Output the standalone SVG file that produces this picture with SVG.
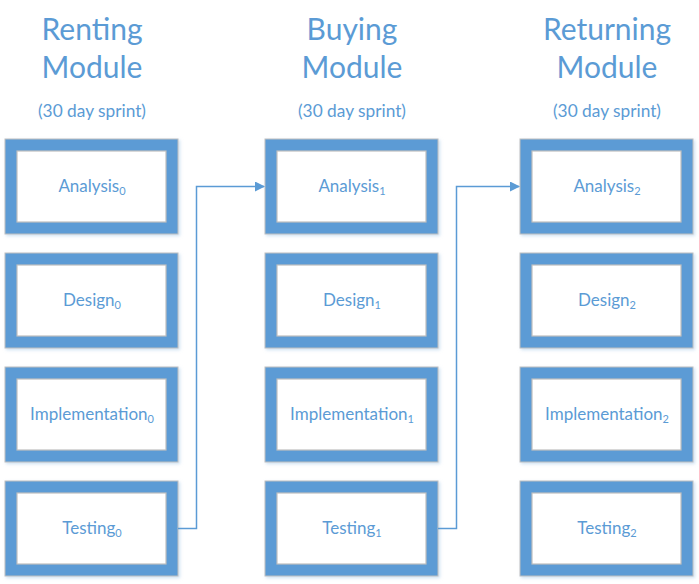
<svg xmlns="http://www.w3.org/2000/svg" width="699" height="584" viewBox="0 0 699 584">
<style>
text{font-family:Lato,"Open Sans","Liberation Sans",sans-serif;fill:#5B9BD5;text-anchor:middle}
.t{font-size:30px}
.s{font-size:17.3px}
.l{font-size:17px}
.sub{font-size:11px}
.o{fill:#5B9BD5;stroke:#BFBFBF;stroke-width:1}
.i{fill:#FFFFFF;stroke:#BFBFBF;stroke-width:1.2}
.c{fill:none;stroke:#5B9BD5;stroke-width:1.5}
</style>
<defs>
<marker id="ah" markerWidth="10" markerHeight="10" refX="9" refY="5" orient="auto" markerUnits="userSpaceOnUse">
<path d="M0,0 L10,5 L0,10 Z" fill="#5B9BD5"/>
</marker>
<filter id="sh" x="-5%" y="-5%" width="115%" height="115%">
<feDropShadow dx="1.5" dy="1.5" stdDeviation="1.5" flood-color="#9DC3E6" flood-opacity="0.5"/>
</filter>
<g id="box"><rect class="o" x="0" y="0" width="173" height="95" filter="url(#sh)"/><rect class="i" x="12" y="12" width="149" height="71"/></g>
</defs>
<g id="headers">
<text class="t" x="92" y="40">Renting</text><text class="t" x="92" y="78">Module</text><text class="s" x="92" y="116.5">(30 day sprint)</text>
<text class="t" x="352" y="40">Buying</text><text class="t" x="352" y="78">Module</text><text class="s" x="352" y="116.5">(30 day sprint)</text>
<text class="t" x="607" y="40">Returning</text><text class="t" x="607" y="78">Module</text><text class="s" x="607" y="116.5">(30 day sprint)</text>
</g>
<g id="col0">
<g id="analysis0"><use href="#box" x="5" y="139"/><text class="l" x="92" y="192">Analysis<tspan class="sub" dy="3">0</tspan></text></g>
<g id="design0"><use href="#box" x="5" y="253"/><text class="l" x="92" y="306">Design<tspan class="sub" dy="3">0</tspan></text></g>
<g id="implementation0"><use href="#box" x="5" y="367"/><text class="l" x="92" y="420">Implementation<tspan class="sub" dy="3">0</tspan></text></g>
<g id="testing0"><use href="#box" x="5" y="481"/><text class="l" x="92" y="534">Testing<tspan class="sub" dy="3">0</tspan></text></g>
</g>
<g id="col1">
<g id="analysis1"><use href="#box" x="265" y="139"/><text class="l" x="352" y="192">Analysis<tspan class="sub" dy="3">1</tspan></text></g>
<g id="design1"><use href="#box" x="265" y="253"/><text class="l" x="352" y="306">Design<tspan class="sub" dy="3">1</tspan></text></g>
<g id="implementation1"><use href="#box" x="265" y="367"/><text class="l" x="352" y="420">Implementation<tspan class="sub" dy="3">1</tspan></text></g>
<g id="testing1"><use href="#box" x="265" y="481"/><text class="l" x="352" y="534">Testing<tspan class="sub" dy="3">1</tspan></text></g>
</g>
<g id="col2">
<g id="analysis2"><use href="#box" x="520" y="139"/><text class="l" x="607" y="192">Analysis<tspan class="sub" dy="3">2</tspan></text></g>
<g id="design2"><use href="#box" x="520" y="253"/><text class="l" x="607" y="306">Design<tspan class="sub" dy="3">2</tspan></text></g>
<g id="implementation2"><use href="#box" x="520" y="367"/><text class="l" x="607" y="420">Implementation<tspan class="sub" dy="3">2</tspan></text></g>
<g id="testing2"><use href="#box" x="520" y="481"/><text class="l" x="607" y="534">Testing<tspan class="sub" dy="3">2</tspan></text></g>
</g>
<g id="connectors">
<path class="c" d="M178,528.5 H196.5 V186.5 H264" marker-end="url(#ah)"/>
<path class="c" d="M438,528.5 H456.5 V186.5 H519" marker-end="url(#ah)"/>
</g>
</svg>
